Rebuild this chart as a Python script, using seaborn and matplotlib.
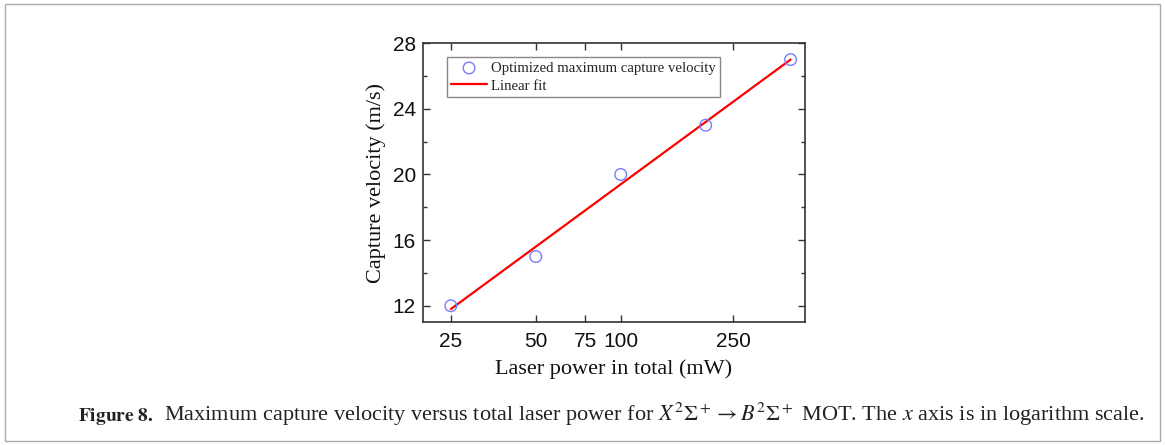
import numpy as np
import pandas as pd
import matplotlib
matplotlib.use("Agg")
import matplotlib.pyplot as plt
from matplotlib.patches import Rectangle
from matplotlib.ticker import FixedLocator, NullLocator, MultipleLocator
import seaborn as sns

# Data
power_mw = [25, 50, 100, 200, 400]
capture_velocity = [12, 15, 20, 23, 27]
x_ticks = [25, 50, 75, 100, 250]
x_tick_labels = ["25", "50", "75", "100", "250"]
y_ticks = [12, 16, 20, 24, 28]

sns.set_theme(style="ticks")
plt.rcParams["font.family"] = ["Liberation Serif", "DejaVu Serif"]
plt.rcParams["mathtext.fontset"] = "stix"

df = pd.DataFrame({"power": power_mw, "velocity": capture_velocity})
# linear fit in log scale
coef = np.polyfit(np.log10(df["power"]), df["velocity"], 1)
fit_df = pd.DataFrame({"power": [min(power_mw), max(power_mw)]})
fit_df["velocity"] = np.polyval(coef, np.log10(fit_df["power"]))

fig = plt.figure(figsize=(11.65, 4.45), dpi=100)
ax = fig.add_axes([0.363, 0.276, 0.328, 0.627])

sns.scatterplot(data=df, x="power", y="velocity", ax=ax, marker="o",
                s=70, facecolor="none", edgecolor="#7b7bff", linewidth=1.0,
                label="Optimized maximum capture velocity", zorder=3)
sns.lineplot(data=fit_df, x="power", y="velocity", ax=ax, color="#ff0000",
             linewidth=1.6, label="Linear fit", zorder=2)

ax.set_xscale("log")
ax.set_xlim(19.9, 450)
ax.set_ylim(11, 28)
ax.xaxis.set_major_locator(FixedLocator(x_ticks))
ax.xaxis.set_minor_locator(NullLocator())
ax.set_xticklabels(x_tick_labels)
ax.yaxis.set_major_locator(FixedLocator(y_ticks))
ax.yaxis.set_minor_locator(MultipleLocator(2))

ax.tick_params(which="both", direction="in", top=True, right=True, colors="#333333",
               labelcolor="#111111")
ax.tick_params(which="major", length=5, width=1.0, labelsize=15)
ax.tick_params(axis="x", which="major", pad=7)
ax.tick_params(axis="y", which="major", pad=5)
ax.tick_params(which="minor", length=3, width=1.0)
for lab in ax.get_xticklabels() + ax.get_yticklabels():
    lab.set_family(["Liberation Sans", "DejaVu Sans"])
for s in ax.spines.values():
    s.set_linewidth(1.2)
    s.set_color("#333333")

ax.set_xlabel("Laser power in total (mW)", fontsize=16, color="#111111", labelpad=6)
ax.set_ylabel("Capture velocity (m/s)", fontsize=16, color="#111111", labelpad=5)

leg = ax.legend(loc="upper left", bbox_to_anchor=(0.063, 0.95), borderaxespad=0,
                fontsize=10.6, frameon=True, fancybox=False, framealpha=1,
                edgecolor="#888888", handlelength=2.4, handletextpad=0.3,
                borderpad=0.3, labelspacing=0.3)
leg.get_frame().set_linewidth(1.0)

fig.text(0.067, 0.055, r"$\mathbf{Figure\ 8.}$", fontsize=14, color="#222222")
fig.text(0.141, 0.055,
         r"Maximum capture velocity versus total laser power for $X^2\Sigma^+ \rightarrow B^2\Sigma^+$ MOT. The $x$ axis is in logarithm scale.",
         fontsize=16, color="#222222")

fig.add_artist(Rectangle((0.004, 0.009), 0.992, 0.982, transform=fig.transFigure,
                         fill=False, edgecolor="#aaaaaa", linewidth=1.0))

fig.savefig("out.png", dpi=100)
